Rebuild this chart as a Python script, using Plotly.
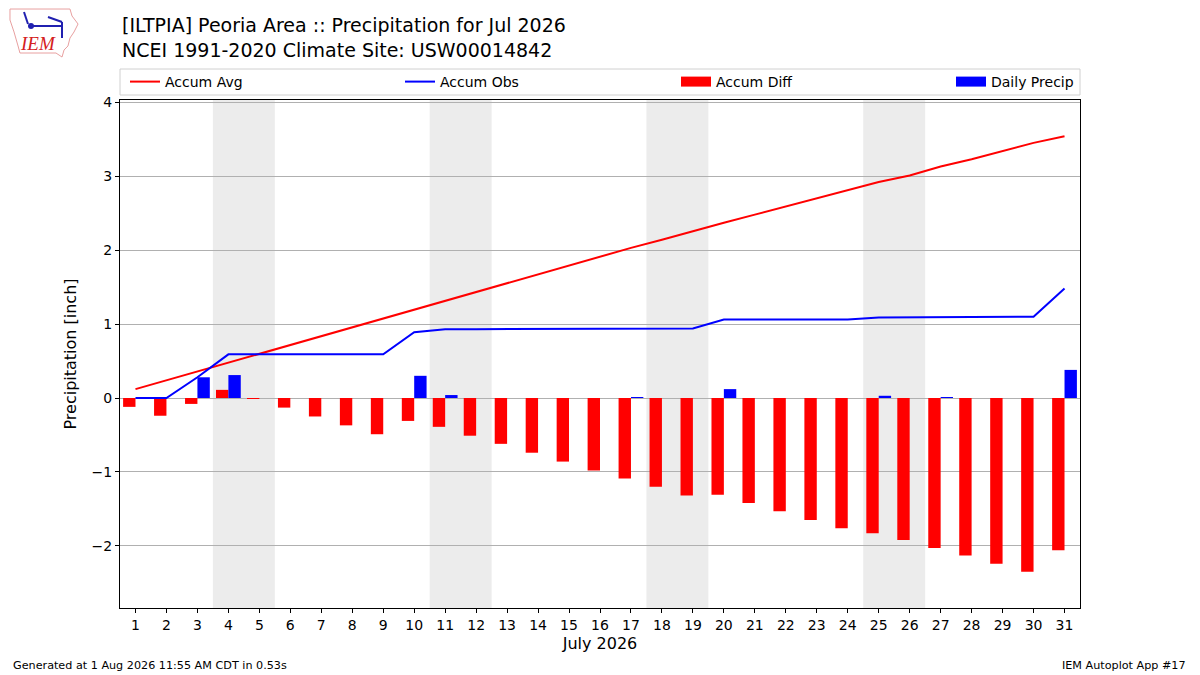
import plotly.graph_objects as go

# data
days = list(range(1, 32))
daily_precip = [0, 0, 0.28, 0.31, 0, 0, 0, 0, 0, 0.30, 0.04, 0, 0, 0, 0, 0,
                0.01, 0, 0, 0.12, 0, 0, 0, 0, 0.03, 0, 0.01, 0, 0, 0, 0.38]
accum_obs = [0, 0, 0.28, 0.59, 0.59, 0.59, 0.59, 0.59, 0.59, 0.89, 0.93, 0.93,
             0.93, 0.93, 0.93, 0.93, 0.94, 0.94, 0.94, 1.06, 1.06, 1.06, 1.06,
             1.06, 1.09, 1.09, 1.10, 1.10, 1.10, 1.10, 1.48]
accum_avg = [0.12, 0.24, 0.36, 0.48, 0.60, 0.72, 0.84, 0.96, 1.08, 1.20, 1.32,
             1.44, 1.55, 1.67, 1.79, 1.91, 2.03, 2.14, 2.26, 2.37, 2.48, 2.59,
             2.71, 2.82, 2.92, 3.01, 3.13, 3.23, 3.34, 3.45, 3.54]
accum_diff = [-0.12, -0.24, -0.08, 0.11, -0.01, -0.13, -0.25, -0.37, -0.49,
              -0.31, -0.39, -0.51, -0.62, -0.74, -0.86, -0.98, -1.09, -1.20,
              -1.32, -1.31, -1.42, -1.53, -1.65, -1.76, -1.83, -1.92, -2.03,
              -2.13, -2.24, -2.35, -2.06]
weekends = [(4, 5), (11, 12), (18, 19), (25, 26)]

title = "[ILTPIA] Peoria Area :: Precipitation for Jul 2026<br>NCEI 1991-2020 Climate Site: USW00014842"
footer_left = "Generated at 1 Aug 2026 11:55 AM CDT in 0.53s"
footer_right = "IEM Autoplot App #17"

FONT = "DejaVu Sans"

# page body has an 8px margin, so the figure is drawn 8px smaller;
# helpers take window pixel positions (plot box x 120..1080, y 100..608)
def px(x):
    return (x - 120) / 960.0

def py(y):
    return (608 - y) / 508.0

fig = go.Figure()

fig.add_trace(go.Scatter(x=days, y=accum_avg, mode="lines", name="Accum Avg",
                         line=dict(color="red", width=2), legend="legend"))
fig.add_trace(go.Scatter(x=days, y=accum_obs, mode="lines", name="Accum Obs",
                         line=dict(color="blue", width=2), legend="legend2"))
fig.add_trace(go.Bar(x=days, y=accum_diff, name="Accum Diff", marker_color="red",
                     marker_line_width=0, width=0.4, offset=-0.4, showlegend=False))
fig.add_trace(go.Bar(x=days, y=daily_precip, name="Daily Precip", marker_color="blue",
                     marker_line_width=0, width=0.4, offset=0, showlegend=False))
# wide patch-style legend keys for the bar series
fig.add_trace(go.Scatter(x=[None], y=[None], mode="lines", name="Accum Diff",
                         line=dict(color="red", width=10), legend="legend3"))
fig.add_trace(go.Scatter(x=[None], y=[None], mode="lines", name="Daily Precip",
                         line=dict(color="blue", width=10), legend="legend4"))

shapes = []
for a, b in weekends:
    shapes.append(dict(type="rect", xref="x", yref="paper", x0=a - 0.5, x1=b + 0.5,
                       y0=0, y1=1, fillcolor="#ececec", line_width=0, layer="below"))
# legend frame
shapes.append(dict(type="rect", xref="paper", yref="paper", x0=0, x1=1,
                   y0=py(95), y1=py(69), line=dict(color="#d0d0d0", width=1),
                   fillcolor="rgba(0,0,0,0)"))
# rough state outline and glyph for the logo
outline = [(10, 9), (70, 9), (72, 16), (78, 24), (74, 32), (70, 38), (68, 46),
           (64, 50), (62, 57), (56, 53), (20, 53), (18, 46), (14, 32), (10, 20)]
path = "M " + " L ".join(f"{px(a):.4f},{py(b):.4f}" for a, b in outline) + " Z"
shapes.append(dict(type="path", xref="paper", yref="paper", path=path,
                   line=dict(color="#e8a0a0", width=1)))
glyph = [((31, 26), (62, 26)), ((62, 22), (62, 38)), ((48, 17), (62, 22)),
         ((24, 12), (28, 24))]
for (a0, b0), (a1, b1) in glyph:
    shapes.append(dict(type="line", xref="paper", yref="paper", x0=px(a0), x1=px(a1),
                       y0=py(b0), y1=py(b1), line=dict(color="#2020b0", width=2)))
shapes.append(dict(type="circle", xref="paper", yref="paper", x0=px(28), x1=px(34),
                   y0=py(29), y1=py(23), fillcolor="#2020b0", line_width=0))

annotations = [
    dict(text=title, xref="paper", yref="paper", x=0, y=py(12), xanchor="left",
         yanchor="top", align="left", showarrow=False,
         font=dict(family=FONT, size=19, color="black")),
    dict(text="<i>IEM</i>", xref="paper", yref="paper", x=px(38), y=py(44),
         xanchor="center", yanchor="middle", showarrow=False,
         font=dict(family="Liberation Serif", size=19, color="#d42020")),
    dict(text=footer_left, xref="paper", yref="paper", x=px(11), y=py(665),
         xanchor="left", yanchor="middle", showarrow=False,
         font=dict(family=FONT, size=11.2, color="black")),
    dict(text=footer_right, xref="paper", yref="paper", x=px(1188), y=py(665),
         xanchor="right", yanchor="middle", showarrow=False,
         font=dict(family=FONT, size=11.2, color="black")),
]

def legend_at(xpix):
    return dict(orientation="h", x=px(xpix), y=py(82), xanchor="left", yanchor="middle",
                borderwidth=0, bgcolor="rgba(0,0,0,0)",
                font=dict(family=FONT, size=14, color="black"))

fig.update_layout(
    width=1192, height=667,
    margin=dict(l=112, r=120, t=92, b=67),
    paper_bgcolor="white", plot_bgcolor="white",
    font=dict(family=FONT, size=14, color="black"),
    barmode="overlay",
    showlegend=True,
    legend=legend_at(125),
    legend2=legend_at(400),
    legend3=legend_at(676),
    legend4=legend_at(951),
    shapes=shapes,
    annotations=annotations,
)

fig.update_xaxes(range=[0.5, 31.5], tickmode="array", tickvals=days,
                 ticktext=[str(d) for d in days], ticks="outside", ticklen=4,
                 tickcolor="black", showline=True, linecolor="black", linewidth=1,
                 mirror=True, showgrid=False, zeroline=False,
                 title=dict(text="July 2026", font=dict(family=FONT, size=16), standoff=6),
                 tickfont=dict(family=FONT, size=14))
fig.update_yaxes(range=[-2.84, 4.03], tickmode="array", tickvals=[-2, -1, 0, 1, 2, 3, 4],
                 ticktext=["\u22122", "\u22121", "0", "1", "2", "3", "4"],
                 ticks="outside", ticklen=4, tickcolor="black", showline=True,
                 linecolor="black", linewidth=1, mirror=True, showgrid=True,
                 gridcolor="#b0b0b0", gridwidth=1, zeroline=False,
                 title=dict(text="Precipitation [inch]", font=dict(family=FONT, size=16),
                            standoff=10),
                 tickfont=dict(family=FONT, size=14))

fig.write_html("out.html")
